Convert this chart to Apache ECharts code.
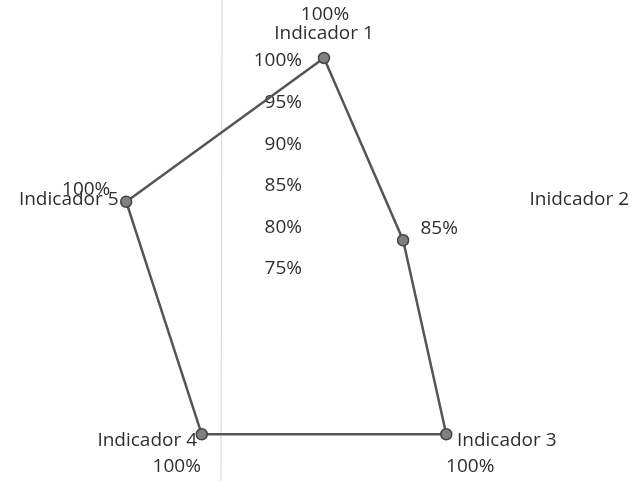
<!DOCTYPE html>
<html>
<head>
<meta charset="utf-8">
<script src="https://cdn.jsdelivr.net/npm/echarts@6/dist/echarts.min.js"></script>
<style>
html, body { margin: 0; padding: 0; background: #fff; }
#main { width: 640px; height: 481px; }
</style>
</head>
<body>
<div id="main"></div>
<script>
var indicators = ['Indicador 1', 'Inidcador 2', 'Indicador 3', 'Indicador 4', 'Indicador 5'];
var values = [100, 85, 100, 100, 100];
var scaleMin = 75;
var scaleMax = 100;
var scaleStep = 5;

var center = [324, 266];
var radius = 208;
var font = '"Open Sans", sans-serif';
var fontSize = 19;
var textColor = '#2e2e2e';

// radar lays indicators out counter-clockwise, the original runs clockwise
var order = [0, 4, 3, 2, 1];
var radarIndicators = order.map(function (i) {
  return { name: indicators[i], min: scaleMin, max: scaleMax };
});
var radarValues = order.map(function (i) { return values[i]; });

// data labels sit around the points like excel put them
var labelOffsets = [[1, -43], [36, -12], [24, 32], [-25, 32], [-40, -12]];
var angleStep = 360 / indicators.length;
var labelData = values.map(function (v, i) {
  return { value: [v, i * angleStep], label: { offset: labelOffsets[i] } };
});

var myChart = echarts.init(document.getElementById('main'));
var option = {
  backgroundColor: '#fff',
  animation: false,
  textStyle: { fontFamily: font },
  radar: {
    center: center,
    radius: radius,
    startAngle: 90,
    shape: 'polygon',
    indicator: radarIndicators,
    nameGap: 8,
    axisName: {
      color: textColor,
      fontFamily: font,
      fontSize: fontSize,
      formatter: function (name) {
        if (name === indicators[0]) return '{top|' + name + '}';
        if (name === indicators[2]) return '{right|' + name + '}';
        return '{n|' + name + '}';
      },
      rich: {
        top: { fontFamily: font, fontSize: fontSize, color: textColor, padding: [0, 0, 7, 0] },
        right: { fontFamily: font, fontSize: fontSize, color: textColor, padding: [0, 0, 0, 6] },
        n: { fontFamily: font, fontSize: fontSize, color: textColor }
      }
    },
    axisLine: { show: false },
    axisTick: { show: false },
    axisLabel: { show: false },
    splitLine: { show: false },
    splitArea: { show: false }
  },
  polar: { center: center, radius: radius },
  angleAxis: { type: 'value', min: 0, max: 360, startAngle: 90, clockwise: true, show: false },
  radiusAxis: { type: 'value', min: scaleMin, max: scaleMax, show: false },
  grid: { left: center[0], top: center[1] - radius + 3, width: 40, height: radius },
  xAxis: { type: 'value', show: false },
  yAxis: {
    type: 'value',
    min: scaleMin,
    max: scaleMax,
    interval: scaleStep,
    axisLine: { show: false },
    axisTick: { show: false },
    splitLine: { show: false },
    axisLabel: {
      margin: 22,
      color: textColor,
      fontFamily: font,
      fontSize: fontSize,
      formatter: '{value}%'
    }
  },
  graphic: [{
    type: 'line',
    shape: { x1: 222, y1: 0, x2: 221, y2: 481 },
    style: { stroke: '#d4d4d4', lineWidth: 1 },
    silent: true,
    z: -1
  }],
  series: [{
    type: 'radar',
    symbol: 'circle',
    symbolSize: 11,
    lineStyle: { color: '#555', width: 2.5 },
    itemStyle: { color: '#808080', borderColor: '#444', borderWidth: 1.5 },
    data: [{ value: radarValues, name: 'Serie' }]
  }, {
    type: 'scatter',
    coordinateSystem: 'polar',
    symbol: 'circle',
    symbolSize: 0,
    itemStyle: { color: textColor, opacity: 1 },
    label: {
      show: true,
      position: 'inside',
      color: textColor,
      opacity: 1,
      fontFamily: font,
      fontSize: fontSize,
      formatter: function (p) { return p.value[0] + '%'; }
    },
    data: labelData
  }]
};
myChart.setOption(option);
</script>
</body>
</html>
